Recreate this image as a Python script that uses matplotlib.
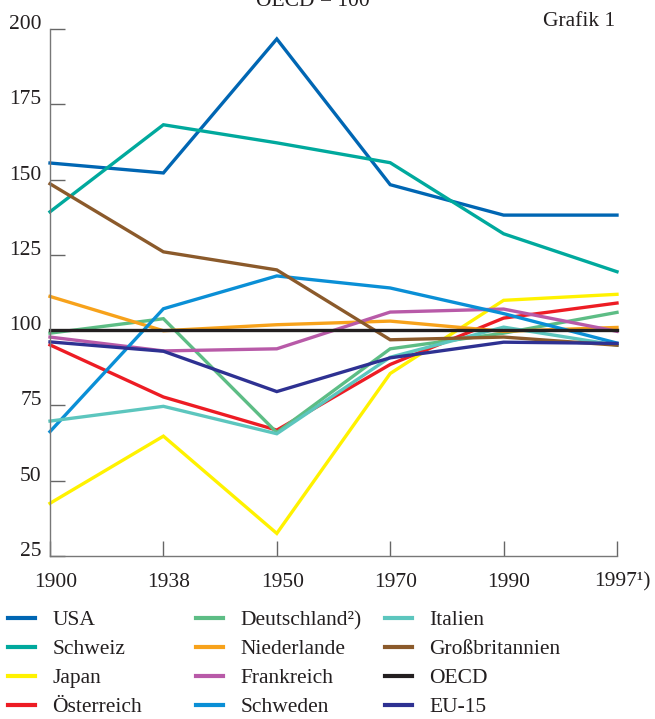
import matplotlib
matplotlib.use("Agg")
import matplotlib.pyplot as plt
import matplotlib.transforms as mtransforms

plt.rcParams['font.family'] = ['Liberation Serif', 'DejaVu Serif']

years = ["1900", "1938", "1950", "1970", "1990", "1997¹)"]

usa = [155.5, 152.2, 196.7, 148.3, 138.2, 138.2]
schweiz = [139.3, 168.2, 162.2, 155.6, 132.0, 119.4]
japan = [42.5, 64.8, 32.5, 85.6, 109.9, 111.9]
oesterreich = [95.1, 77.8, 66.8, 88.6, 104.0, 109.0]
deutschland = [99.0, 103.8, 66.0, 93.8, 99.0, 105.9]
niederlande = [111.2, 99.8, 101.8, 103.0, 99.6, 100.9]
frankreich = [97.7, 93.1, 93.8, 106.0, 107.0, 99.6]
schweden = [66.3, 107.1, 118.0, 114.0, 105.5, 95.7]
italien = [69.8, 74.7, 65.6, 91.0, 101.0, 95.0]
grossbritannien = [148.6, 126.0, 120.0, 96.8, 97.7, 95.0]
oecd = [100, 100, 100, 100, 100, 100]
eu15 = [96.1, 93.0, 79.6, 90.8, 96.0, 95.6]

series = [
    ("USA", usa, "#0066b3"),
    ("Schweiz", schweiz, "#00a99d"),
    ("Japan", japan, "#fff200"),
    ("Österreich", oesterreich, "#ed1c24"),
    ("Deutschland²)", deutschland, "#5dbd85"),
    ("Niederlande", niederlande, "#f7a21b"),
    ("Frankreich", frankreich, "#b85aa8"),
    ("Schweden", schweden, "#0a8fd6"),
    ("Italien", italien, "#5cc6be"),
    ("Großbritannien", grossbritannien, "#8b5a2b"),
    ("OECD", oecd, "#231f20"),
    ("EU-15", eu15, "#2e3192"),
]

yticks = [25, 50, 75, 100, 125, 150, 175, 200]

FS = 15.5

fig = plt.figure(figsize=(6.55, 7.19), dpi=100)
ax = fig.add_axes([50/655, 1-556/719, (617-50)/655, (556-29)/719])

x = list(range(len(years)))
handles = []
for name, vals, col in series:
    h, = ax.plot(x, vals, color=col, lw=2.4, label=name, solid_joinstyle='miter', clip_on=False)
    handles.append(h)

ax.set_xlim(0, len(years)-1)
ax.set_ylim(25, 200)
ax.set_xticks(x)
ax.set_xticklabels(years)
ax.set_yticks(yticks)
ax.set_yticklabels([str(v) for v in yticks])

for s in ['top', 'right']:
    ax.spines[s].set_visible(False)
for s in ['left', 'bottom']:
    ax.spines[s].set_color('#777777')
    ax.spines[s].set_linewidth(1.0)

ax.tick_params(axis='both', direction='in', length=11, width=1.0, color='#666666',
               labelsize=FS, labelcolor='#231f20')
ax.tick_params(axis='x', pad=12)
ax.tick_params(axis='y', pad=6)

dy = mtransforms.ScaledTranslation(0, 5/72, fig.dpi_scale_trans)
for lab in ax.get_yticklabels():
    lab.set_transform(lab.get_transform() + dy)
dx = mtransforms.ScaledTranslation(4/72, 0, fig.dpi_scale_trans)
for lab in ax.get_xticklabels():
    lab.set_transform(lab.get_transform() + dx)

fig.text(313/655, 1-1/719, "OECD = 100", ha='center', va='center', fontsize=FS, color='#231f20')
fig.text(615/655, 1-21/719, "Grafik 1", ha='right', va='center', fontsize=FS, color='#231f20')

cols_x = [8/655, 196/655, 385/655]
for i in range(3):
    hs = handles[i*4:(i+1)*4]
    leg = fig.legend(handles=hs, labels=[h.get_label() for h in hs],
                     loc='upper left', bbox_to_anchor=(cols_x[i], 1-610/719),
                     frameon=False, fontsize=FS, handlelength=1.25, handletextpad=0.8,
                     labelspacing=0.42, borderaxespad=0, borderpad=0)
    for t in leg.get_texts():
        t.set_color('#231f20')
    for lh in leg.get_lines():
        lh.set_linewidth(3)

fig.savefig("out.png", dpi=100)
